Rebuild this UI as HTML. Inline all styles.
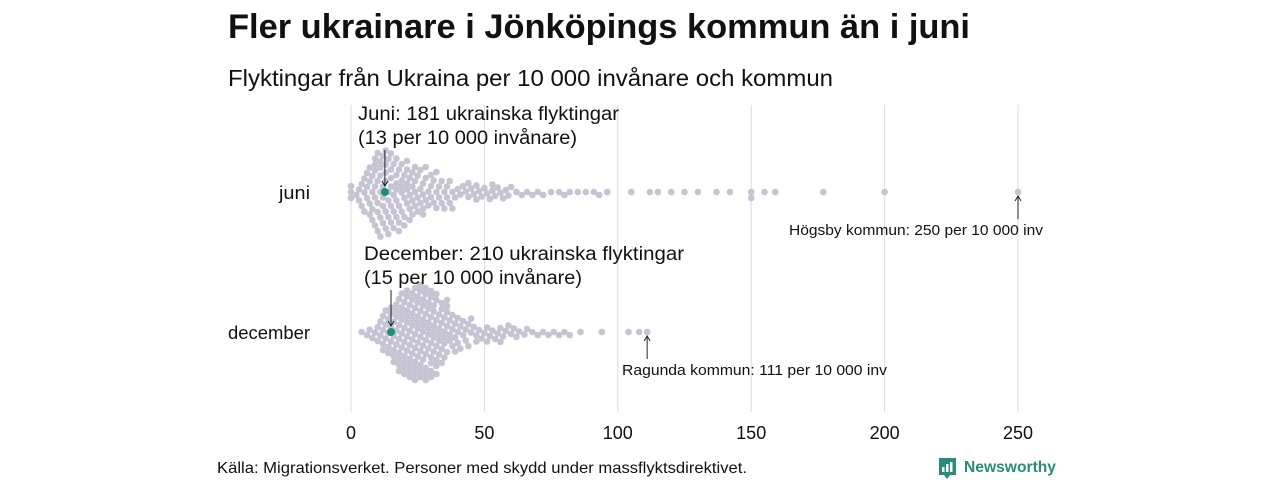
<!DOCTYPE html>
<html><head><meta charset="utf-8"><style>
body{margin:0;background:#fff;width:1280px;height:480px;overflow:hidden;font-family:"Liberation Sans","DejaVu Sans",sans-serif;}
svg text{font-family:"Liberation Sans","DejaVu Sans",sans-serif;}
</style></head><body>
<svg id="chart" width="1280" height="480" xmlns="http://www.w3.org/2000/svg">
<text x="228" y="38" font-size="34" font-weight="bold" fill="#111" textLength="742" lengthAdjust="spacingAndGlyphs">Fler ukrainare i Jönköpings kommun än i juni</text>
<text x="228" y="86" font-size="23" fill="#111" textLength="605" lengthAdjust="spacingAndGlyphs">Flyktingar från Ukraina per 10 000 invånare och kommun</text>
<g id="grid"></g>
<g id="dots"></g>
<g id="ann"></g>
<text x="217" y="473" font-size="16" fill="#111" textLength="530" lengthAdjust="spacingAndGlyphs">Källa: Migrationsverket. Personer med skydd under massflyktsdirektivet.</text>
<g>
<path d="M939 458 h17 v17 h-6 l-3 4 l-3 -4 h-5 z" fill="#2a8a7b"/>
<rect x="942" y="467" width="2.5" height="5" fill="#fff"/><rect x="946" y="464" width="2.5" height="8" fill="#fff"/><rect x="950" y="462" width="2.5" height="10" fill="#fff"/>
<text x="964" y="472" font-size="16" font-weight="bold" fill="#2a8a7b" textLength="92" lengthAdjust="spacingAndGlyphs">Newsworthy</text>
</g>
</svg>
<script>
const ticks=[0,50,100,150,200,250];
const rowLabels=["juni","december"];
const juniValues=[0,0,0,
2,3,3,4,4,5,5,5,6,6,6,7,7,7,7,8,8,8,8,9,9,9,9,9,10,10,10,10,10,11,11,11,11,11,12,12,12,12,12,13,13,13,13,13,14,14,14,14,14,15,15,15,15,15,16,16,16,16,17,17,17,17,17,18,18,18,18,19,19,19,19,20,20,20,20,21,21,21,21,22,22,22,22,23,23,23,24,24,24,24,25,25,25,26,26,26,27,27,27,28,28,28,29,29,30,30,30,31,31,32,32,33,33,34,34,35,35,36,36,37,38,38,39,40,41,42,43,44,45,46,47,48,49,50,51,52,53,54,55,56,57,58,59,60,62,64,66,68,70,72,75,78,80,82,85,88,91,93,96,105,112,115,120,125,130,137,142,150,150,155,159,177,200,250,
9,11,13,15,17,19,21,23,27,32,37,44,47,53];
const decValues=[4,6,7,8,9,10,10,11,11,12,12,12,13,13,13,14,14,14,15,15,15,15,16,16,16,16,17,17,17,17,18,18,18,18,18,19,19,19,19,19,20,20,20,20,20,21,21,21,21,21,22,22,22,22,22,23,23,23,23,23,24,24,24,24,24,25,25,25,25,25,26,26,26,26,26,27,27,27,27,27,28,28,28,28,28,29,29,29,29,30,30,30,30,30,31,31,31,31,32,32,32,32,33,33,33,33,34,34,34,35,35,35,36,36,36,37,37,37,38,38,39,39,40,40,41,41,42,42,43,44,44,45,46,47,48,49,50,51,52,53,54,55,56,57,58,59,60,61,62,63,65,66,68,70,72,74,76,78,80,82,86,94,104,108,111,
12,14,16,18,20,22,24,26,28,30,32,34,36,38,17,19,21,23,25,27,29,31,33,35,18,20,22,24,26,28,30,32,34,36,40,45,21,23,25,27,29,31,24,26,28,30,32,35,39,43,47,51,56];
const highlight=[12.7,15];
const annTexts=[["Juni: 181 ukrainska flyktingar","(13 per 10 000 invånare)"],["December: 210 ukrainska flyktingar","(15 per 10 000 invånare)"]];
const outlierText=["Högsby kommun: 250 per 10 000 inv","Ragunda kommun: 111 per 10 000 inv"];
const outlierVal=[250,111];

const NS="http://www.w3.org/2000/svg";
const x=v=>351+v*(1018-351)/250;
const rowY=[192,332];
function mk(tag,attrs,parent){const e=document.createElementNS(NS,tag);for(const k in attrs)e.setAttribute(k,attrs[k]);parent.appendChild(e);return e;}
const grid=document.getElementById('grid'),dots=document.getElementById('dots'),ann=document.getElementById('ann');
ticks.forEach(t=>{
 const l=mk('line',{x1:x(t),x2:x(t),y1:105,y2:412,stroke:'#dcdcdc','stroke-width':1},grid);
 
 
 const tx=mk('text',{x:x(t),y:439,'font-size':18,'text-anchor':'middle',fill:'#111'},grid);
 tx.textContent=t;
 
 
});
const rowW=[31,82];
rowLabels.forEach((r,i)=>{
 const t=mk('text',{x:310,y:rowY[i]+7,'font-size':18,'text-anchor':'end',fill:'#111',textLength:rowW[i],lengthAdjust:'spacingAndGlyphs'},grid);
 t.textContent=r;
 
 
});
const R=3.3,D=6;
function swarm(vals,cy,name){
 const s=vals.slice().sort((a,b)=>a-b);const placed=[];
 s.forEach(v=>{
  const px=x(v);let best=0;
  for(let k=0;k<300;k++){
   const off=(k%2?1:-1)*Math.ceil(k/2)*0.5;
   if(placed.every(p=>{const dx=p[0]-px,dy=p[1]-off;return dx*dx+dy*dy>=D*D;})){best=off;break;}
  }
  placed.push([px,best]);
  const c=mk('circle',{cx:px,cy:cy+best,r:R,fill:'#c6c3d3'},dots);
  
  
 });
}
swarm(juniValues,rowY[0],'juni');
swarm(decValues,rowY[1],'december');
const annW=[[261,219],[320,218]];
const outW=[254,265];
highlight.forEach((v,i)=>{
 const c=mk('circle',{cx:x(v),cy:rowY[i],r:4,fill:'#1a9077'},dots);
 
 
 const ty=rowY[i]-65;
 const t1=mk('text',{x:i?364:358,y:ty-7,'font-size':19,fill:'#111',textLength:annW[i][0],lengthAdjust:'spacingAndGlyphs'},ann);t1.textContent=annTexts[i][0];
 
 
 const t2=mk('text',{x:i?364:358,y:ty+17,'font-size':19,fill:'#111',textLength:annW[i][1],lengthAdjust:'spacingAndGlyphs'},ann);t2.textContent=annTexts[i][1];
 
 
 const l=mk('line',{x1:x(v),x2:x(v),y1:rowY[i]-42,y2:rowY[i]-7,stroke:'#222','stroke-width':1},ann);
 
 
 mk('path',{d:`M${x(v)-3} ${rowY[i]-11} L${x(v)} ${rowY[i]-6} L${x(v)+3} ${rowY[i]-11}`,fill:'none',stroke:'#222'},ann);
 const ox=x(outlierVal[i]);
 const ol=mk('line',{x1:ox,x2:ox,y1:rowY[i]+27,y2:rowY[i]+4,stroke:'#222','stroke-width':1},ann);
 
 
 mk('path',{d:`M${ox-3} ${rowY[i]+9} L${ox} ${rowY[i]+4} L${ox+3} ${rowY[i]+9}`,fill:'none',stroke:'#222'},ann);
 const ot=mk('text',{x:i?622:789,y:rowY[i]+43,'font-size':15,fill:'#111',textLength:outW[i],lengthAdjust:'spacingAndGlyphs'},ann);
 ot.textContent=outlierText[i];
 
 
});
</script>
</body></html>
